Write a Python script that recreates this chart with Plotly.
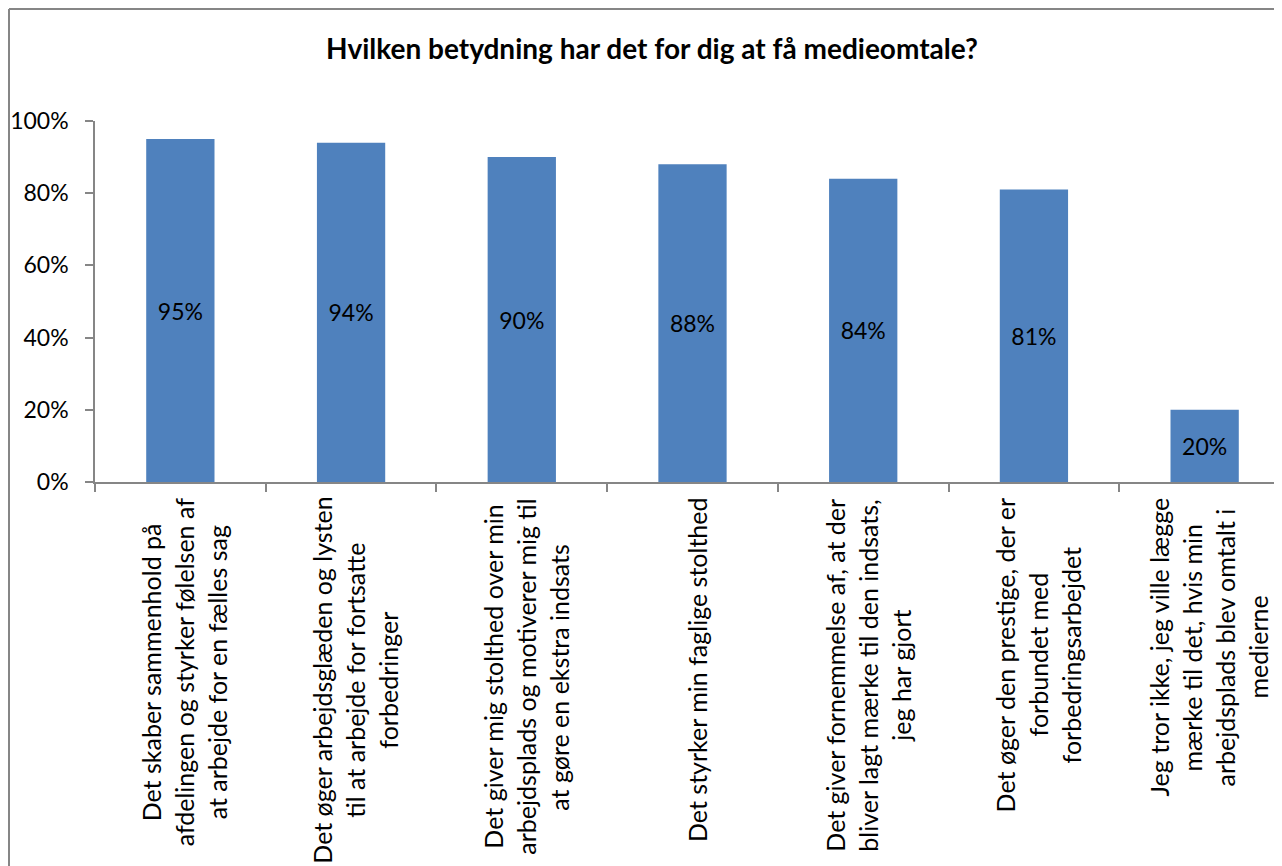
import plotly.graph_objects as go

# ---- data ----
label_lines = [
    ["Det skaber sammenhold på", "afdelingen og styrker følelsen af", "at arbejde for en fælles sag"],
    ["Det øger arbejdsglæden og lysten", "til at arbejde for fortsatte", "forbedringer"],
    ["Det giver mig stolthed over min", "arbejdsplads og motiverer mig til", "at gøre en ekstra indsats"],
    ["Det styrker min faglige stolthed"],
    ["Det giver fornemmelse af, at der", "bliver lagt mærke til den indsats,", "jeg har gjort"],
    ["Det øger den prestige, der er", "forbundet med", "forbedringsarbejdet"],
    ["Jeg tror ikke, jeg ville lægge", "mærke til det, hvis min", "arbejdsplads blev omtalt i", "medierne"],
]
categories = [" ".join(l) for l in label_lines]
values = [0.95, 0.94, 0.90, 0.88, 0.84, 0.81, 0.20]
value_labels = ["95%", "94%", "90%", "88%", "84%", "81%", "20%"]
y_tickvals = [0, 0.2, 0.4, 0.6, 0.8, 1.0]
y_ticktext = ["0%", "20%", "40%", "60%", "80%", "100%"]
title_text = "Hvilken betydning har det for dig at få medieomtale?"

# ---- layout constants ----
W, H = 1282, 866
L_M, R_M, T_M, B_M = 87, 0, 113, 392
PW = W - L_M - R_M
PH = H - T_M - B_M
FONT = "Lato"
AXIS_COLOR = "#868686"
LABEL_SIZE = 25
LINE_GAP = 33

# approximate glyph widths (em) for estimating label length
_w = {' ': .25, ',': .25, '.': .25, 'i': .24, 'l': .24, 'j': .24, 'f': .32, 't': .35, 'r': .36,
      's': .42, 'c': .46, 'k': .50, 'v': .50, 'y': .50, 'g': .50, 'a': .51, 'e': .51, 'å': .51,
      'm': .84, 'æ': .80, 'D': .69, 'J': .37}

def est_len(s, size):
    return sum(_w.get(ch, .56) for ch in s) * size

fig = go.Figure()
fig.add_trace(go.Bar(
    x=categories, y=values, width=0.4,
    marker=dict(color="#4F81BD", line=dict(width=0)),
    text=value_labels, textposition="inside", insidetextanchor="middle",
    textangle=0, textfont=dict(family=FONT, size=23, color="black"),
    hoverinfo="skip",
))

annotations = []
for cat, lines in zip(categories, label_lines):
    n = len(lines)
    longest = max(est_len(s, LABEL_SIZE) for s in lines)
    center_px = (T_M + PH) + 18 + longest / 2
    ypaper = ((T_M + PH) - center_px) / PH
    for j, line in enumerate(lines):
        annotations.append(dict(
            x=cat, xref="x", y=ypaper, yref="paper",
            text=line, showarrow=False, textangle=-90,
            xanchor="center", yanchor="middle",
            xshift=(j - (n - 1) / 2) * LINE_GAP + 4,
            font=dict(family=FONT, size=LABEL_SIZE, color="black"),
        ))

def px_to_xpaper(px):
    return (px - L_M) / PW

def px_to_ypaper(py):
    return ((T_M + PH) - py) / PH

shapes = [
    dict(type="line", xref="paper", yref="paper",
         x0=px_to_xpaper(1), x1=px_to_xpaper(1), y0=px_to_ypaper(H + 5), y1=px_to_ypaper(1),
         line=dict(color=AXIS_COLOR, width=2)),
    dict(type="line", xref="paper", yref="paper",
         x0=px_to_xpaper(1), x1=px_to_xpaper(W + 5), y0=px_to_ypaper(1), y1=px_to_ypaper(1),
         line=dict(color=AXIS_COLOR, width=2)),
]

fig.update_layout(
    width=W, height=H,
    margin=dict(l=L_M, r=R_M, t=T_M, b=B_M, autoexpand=False),
    paper_bgcolor="white", plot_bgcolor="white",
    showlegend=False,
    title=dict(text=title_text, x=644 / W, xref="container", xanchor="center",
               y=1 - 41 / H, yref="container", yanchor="middle",
               font=dict(family=FONT, size=28, color="black", weight="bold")),
    annotations=annotations,
    shapes=shapes,
    bargap=0.6,
)
fig.update_xaxes(
    range=[-0.5, 6.5], showticklabels=False, showgrid=False, zeroline=False,
    showline=True, linecolor=AXIS_COLOR, linewidth=1.5,
    ticks="outside", tickson="boundaries", ticklen=8, tickcolor=AXIS_COLOR, tickwidth=1.5,
)
fig.update_yaxes(
    range=[0, 1], tickvals=y_tickvals, ticktext=y_ticktext, showgrid=False, zeroline=False,
    showline=True, linecolor=AXIS_COLOR, linewidth=1.5,
    ticks="outside", ticklen=8, tickcolor=AXIS_COLOR, tickwidth=1.5,
    tickfont=dict(family=FONT, size=23, color="black"), ticklabelstandoff=12,
)

fig.write_html("out.html")
